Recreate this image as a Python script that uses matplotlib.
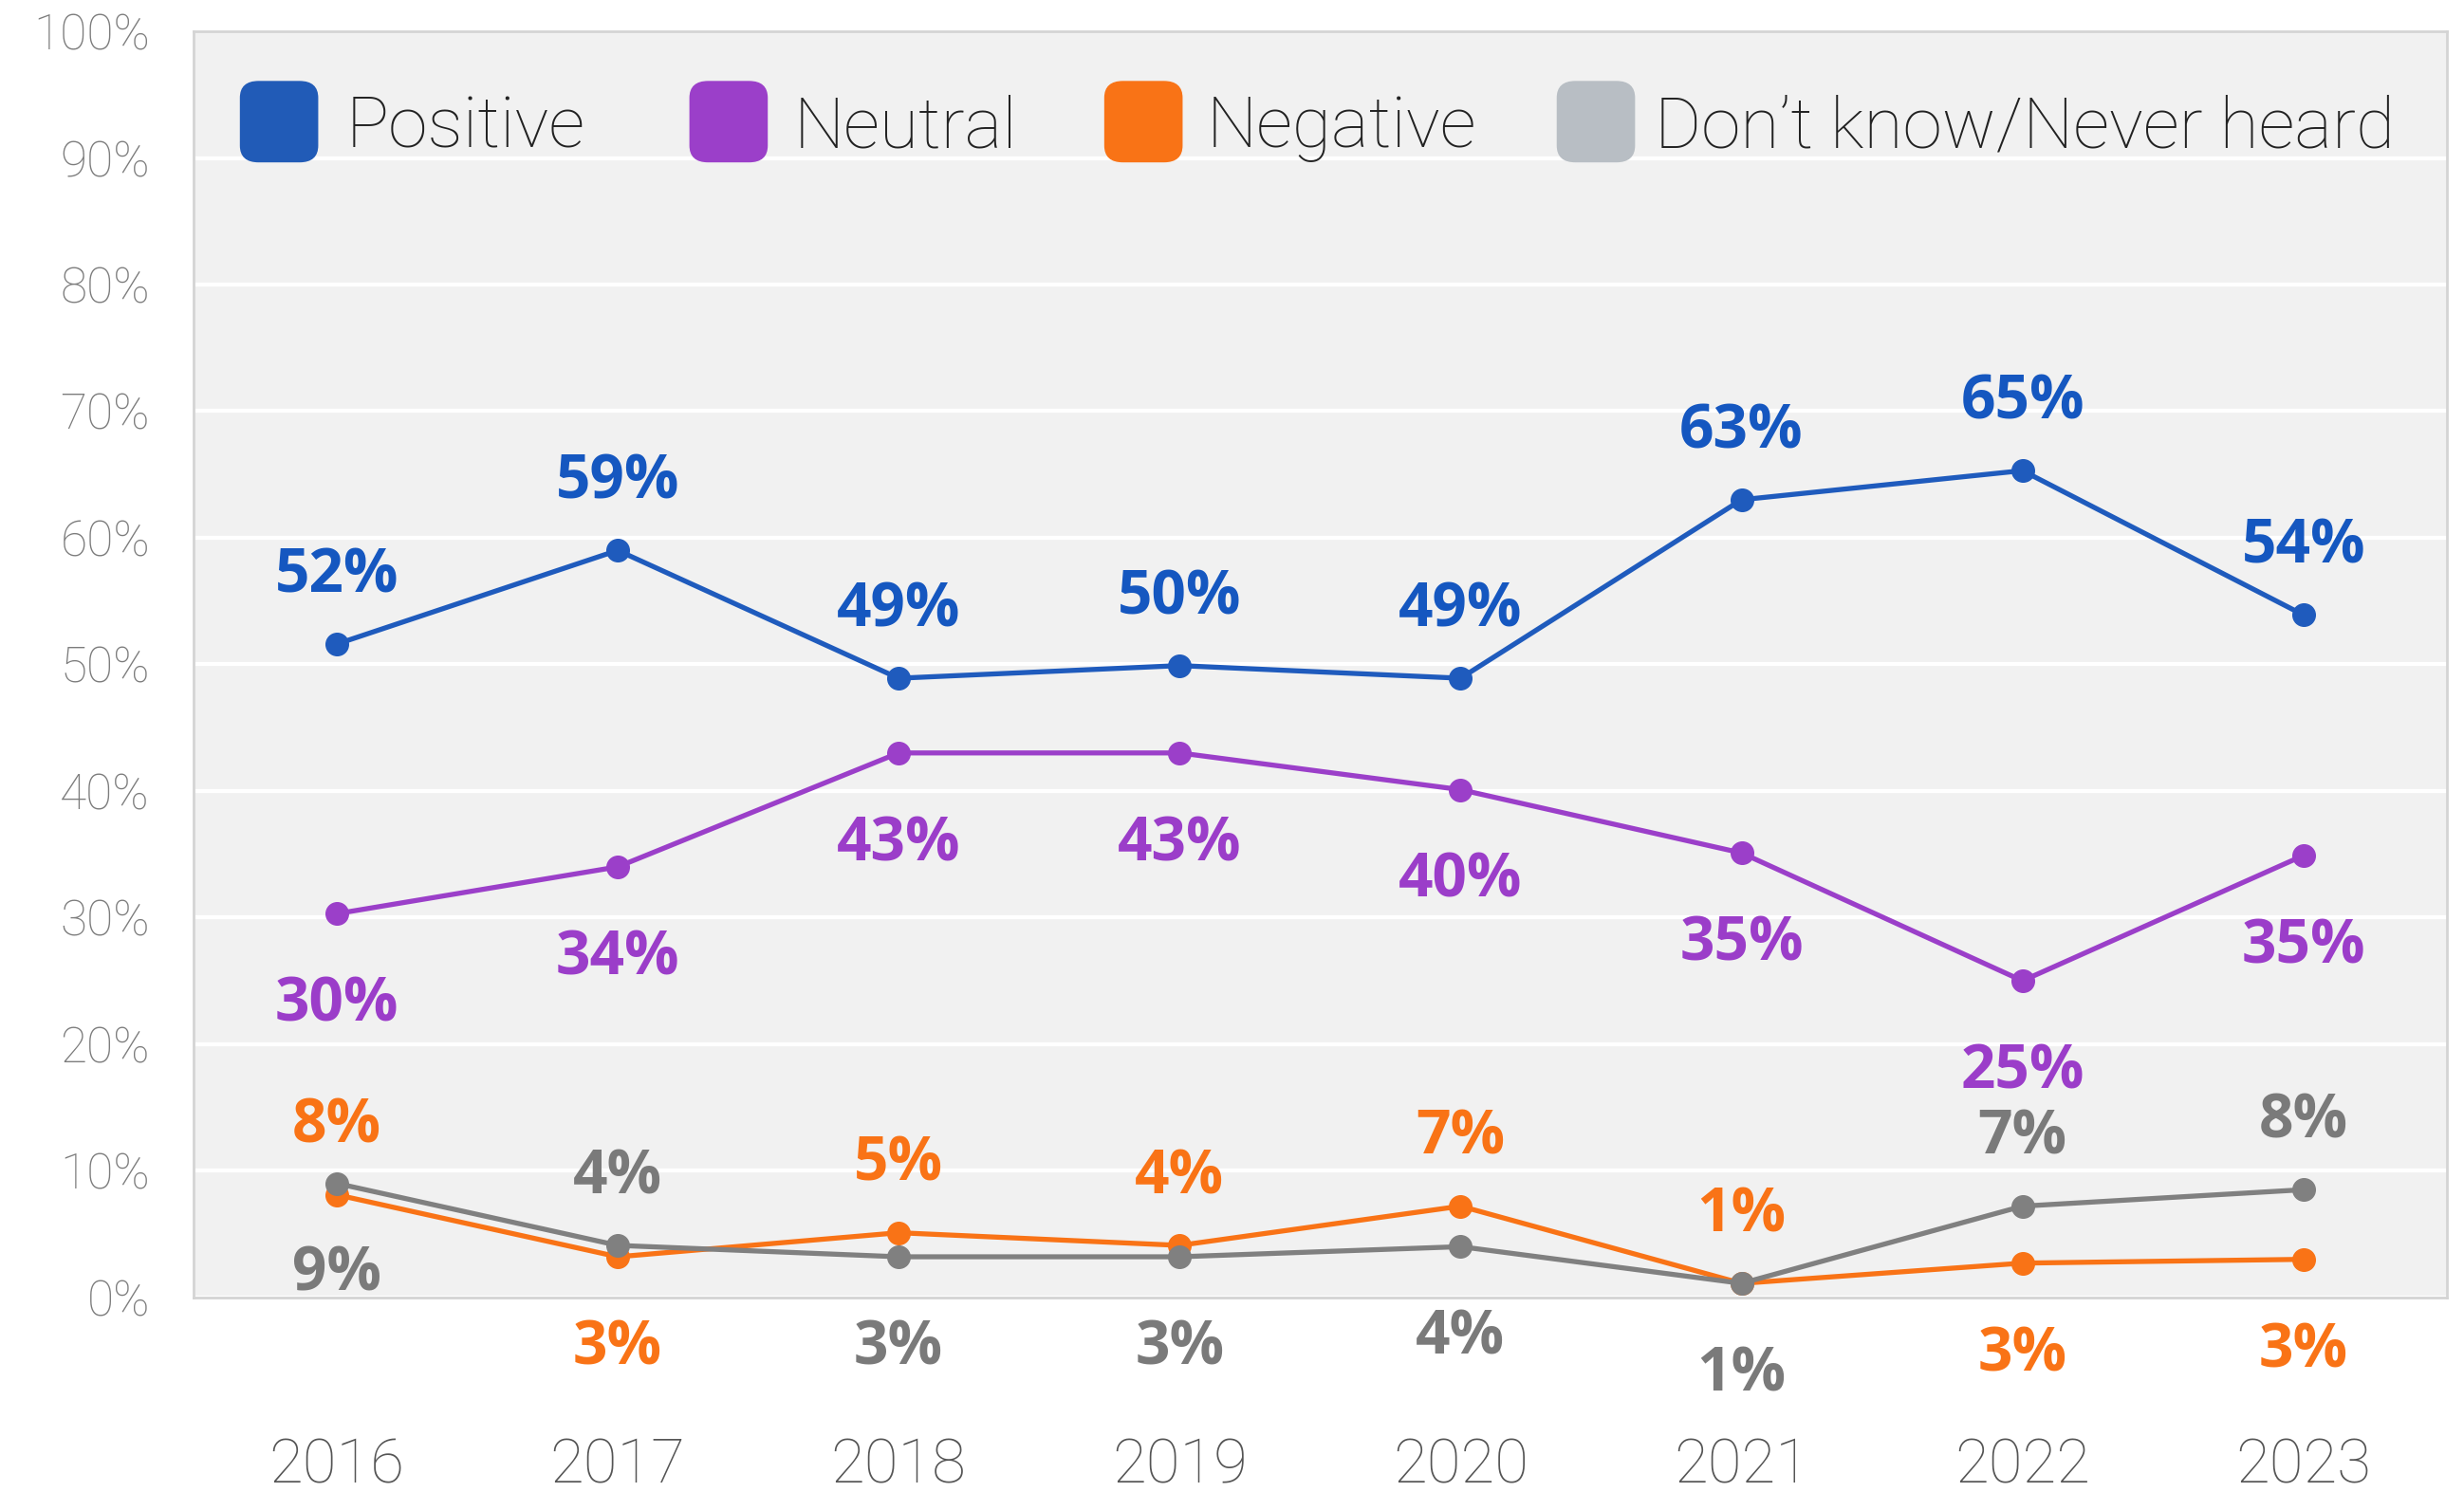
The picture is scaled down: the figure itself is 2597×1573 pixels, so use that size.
import matplotlib.pyplot as plt
from matplotlib.patches import FancyBboxPatch

# Values (percent)
years = ["2016", "2017", "2018", "2019", "2020", "2021", "2022", "2023"]
positive = [51.6, 59.0, 48.9, 49.9, 48.9, 63.0, 65.3, 53.9]
neutral = [30.3, 34.0, 43.0, 43.0, 40.1, 35.1, 25.0, 34.9]
negative = [8.1, 3.2, 5.1, 4.1, 7.2, 1.1, 2.7, 3.0]
dont_know = [9.0, 4.1, 3.2, 3.2, 4.0, 1.1, 7.2, 8.5]

# which side of the point each label sits on
positive_side = ["up"] * 8
neutral_side = ["down"] * 8
negative_side = ["up", "down", "up", "up", "up", "up", "down", "down"]
dont_know_side = ["down", "up", "down", "down", "down", "down", "up", "up"]

series = [
    ("Positive", positive, positive_side, "#1f5bbd", "#1557c0", "#215bb7"),
    ("Neutral", neutral, neutral_side, "#9b3fc9", "#9b3dc9", "#9b3fc9"),
    ("Negative", negative, negative_side, "#f97316", "#f97316", "#f97316"),
    ("Don’t know/Never heard", dont_know, dont_know_side, "#808080", "#7a7a7a", "#b8bec4"),
]

fig = plt.figure(figsize=(25.97, 15.73), dpi=100)
ax = fig.add_axes([0.0785, 0.1305, 0.9145, 0.8485])
ax.set_facecolor("#f1f1f1")

x = list(range(len(years)))
for name, vals, sides, line_c, text_c, _ in series:
    ax.plot(x, vals, color=line_c, lw=3.8, marker="o", markersize=17, zorder=3)
    for xi, v, side in zip(x, vals, sides):
        dy = 57 if side == "up" else -64
        ax.annotate(f"{round(v)}%", (xi, v), xytext=(0, dy), textcoords="offset points",
                    ha="center", va="center_baseline", fontsize=46, fontweight="bold",
                    family="Open Sans", color=text_c, annotation_clip=False)

ax.set_xlim(-0.51, 7.51)
ax.set_ylim(0, 100)
ax.set_yticks(range(0, 101, 10))
ax.set_yticklabels([f"{t}%" for t in range(0, 101, 10)], family="Roboto",
                   fontweight="light", fontsize=37, color="#7c7c7c")
ax.set_xticks(x)
ax.set_xticklabels(years, family="Roboto", fontweight="light", fontsize=47, color="#555555")
ax.tick_params(axis="y", length=0, pad=33)
ax.tick_params(axis="x", length=0, pad=106)
ax.grid(axis="y", color="white", lw=3)
ax.set_axisbelow(True)
for s in ax.spines.values():
    s.set_color("#d4d4d4")
    s.set_linewidth(2)

# legend drawn by hand with rounded swatches
sw_x = [0.0209, 0.2204, 0.4045, 0.6053]
txt_x = [0.0676, 0.2664, 0.4498, 0.6485]
for (name, _, _, _, _, sw_c), sx, tx in zip(series, sw_x, txt_x):
    ax.add_patch(FancyBboxPatch((sx, 0.897), 0.0342, 0.0633, boxstyle="round,pad=0,rounding_size=0.008",
                                transform=ax.transAxes, color=sw_c, zorder=4, mutation_aspect=1.6))
    ax.text(tx, 0.929, name, transform=ax.transAxes, ha="left", va="center_baseline",
            fontsize=54, fontweight="light", family="Roboto", color="#222222", zorder=4)

fig.savefig("out.png", dpi=100)
